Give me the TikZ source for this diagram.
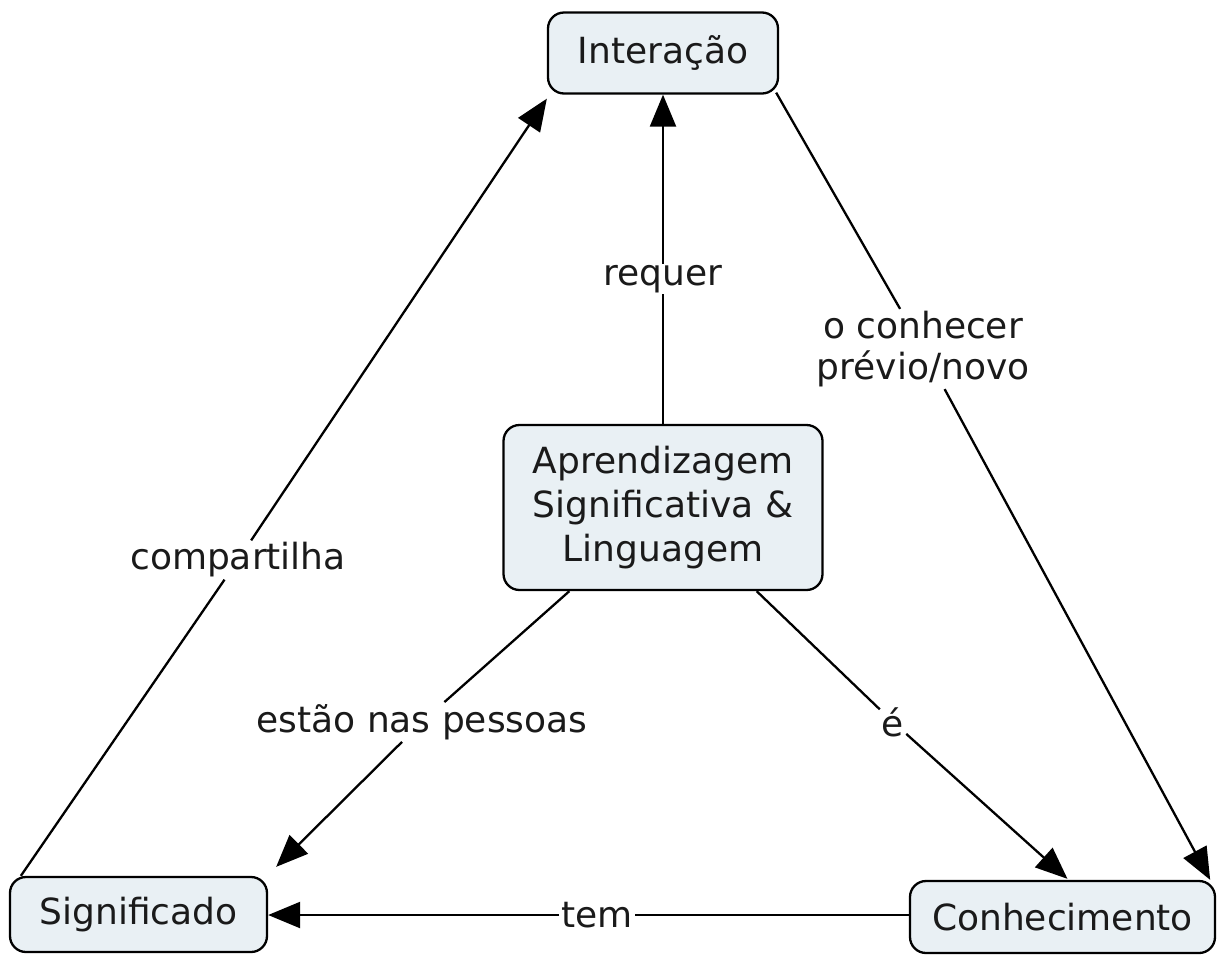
\documentclass[tikz,border=0pt]{standalone}
\usepackage{fontspec}
\setmainfont{DejaVu Sans}
\usetikzlibrary{arrows.meta}
\definecolor{conceptfill}{RGB}{233,240,244}
\definecolor{textcol}{RGB}{26,26,26}
\begin{document}
\begin{tikzpicture}[x=1pt,y=-1pt,
  concept/.style={draw=black, line width=2.3pt, rounded corners=16pt, fill=conceptfill,
    align=center, font=\fontsize{36}{44}\selectfont, text=textcol, inner sep=0pt},
  lbl/.style={fill=white, font=\fontsize{36}{41}\selectfont, align=center, inner sep=2pt, text=textcol},
  link/.style={line width=2.3pt, draw=black},
  arr/.style={link, -{Triangle[length=32pt,width=26pt]}}]
\useasboundingbox (0,0) rectangle (1217,954);
% concepts
\node[concept, minimum width=230pt, minimum height=81pt] (int) at (663,53) {Interação};
\node[concept, minimum width=319pt, minimum height=165pt] (cen) at (663,507.5) {Aprendizagem\\Significativa \&\\Linguagem};
\node[concept, minimum width=257pt, minimum height=75pt] (sig) at (138.5,914.5) {Significado};
\node[concept, minimum width=305pt, minimum height=72pt] (con) at (1062.5,917) {Conhecimento};
% link labels
\node[lbl, inner ysep=1pt] (l1) at (663,279) {requer};
\node[lbl] (l2) at (923,349) {o conhecer\\prévio/novo};
\node[lbl] (l3) at (238,560) {compartilha};
\node[lbl] (l4) at (422,722) {estão nas pessoas};
\node[lbl] (l5) at (893,722) {é};
\node[lbl, inner xsep=2pt] (l6) at (597,915) {tem};
% connectors
\draw[link] (cen.north) -- (l1);
\draw[arr] (l1) -- (int.south);
\draw[link] ([xshift=-3pt,yshift=2pt]int.south east) -- (l2);
\draw[arr] (l2) -- ([xshift=-6pt]con.north east);
\draw[link] ([xshift=12pt]sig.north west) -- (l3);
\draw[arr] (l3) -- ([yshift=-4pt]int.south west);
\draw[link] ([xshift=67pt]cen.south west) -- (l4);
\draw[arr] (l4) -- ([xshift=8pt,yshift=9pt]sig.north east);
\draw[link] ([xshift=-67pt]cen.south east) -- (l5);
\draw[arr] (l5) -- ([xshift=5pt,yshift=1pt]con.north);
\draw[link] (con.west |- l6) -- (l6);
\draw[arr] (l6) -- (sig.east |- l6);
\end{tikzpicture}
\end{document}
